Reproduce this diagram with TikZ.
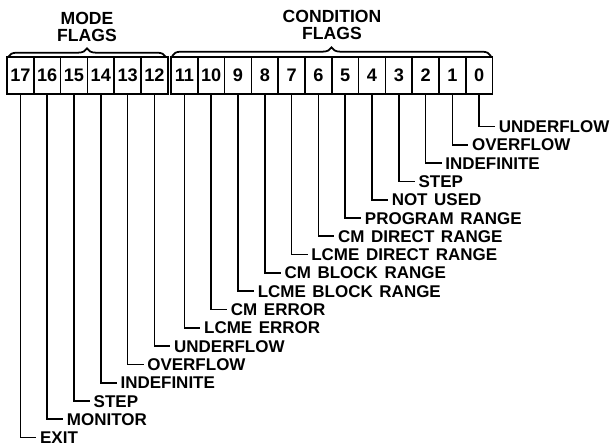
\documentclass[tikz,border=0pt]{standalone}
\usepackage{fontspec}
\setmainfont{Liberation Sans}[WordSpace=1.4]
\usetikzlibrary{decorations.pathreplacing}

\tikzset{
  bitbox/.style={draw, line width=1.5pt, minimum width=0.804cm, minimum height=1.11cm,
    inner sep=0pt, font=\bfseries\fontsize{15.5}{16}\selectfont},
  flaglabel/.style={anchor=west, inner xsep=3pt, inner ysep=0pt, text height=10.4pt,
    text depth=0pt, font=\bfseries\fontsize{14.5}{16}\selectfont},
  flagline/.style={line width=1.5pt},
  grouphead/.style={align=center, font=\bfseries\fontsize{15}{14.8}\selectfont}
}

\begin{document}
\begin{tikzpicture}[x=0.03cm, y=-0.03cm]
        \useasboundingbox (0,0) rectangle (612,446);

        % Intestazioni dei due gruppi
        \node[grouphead] (modehead) at (87,27) {MODE\\FLAGS};
        \node[grouphead] (condhead) at (332,25) {CONDITION\\FLAGS};
        \draw[flagline, decorate, decoration={brace, amplitude=0.26cm}] (8,57) -- (166,57);
        \draw[flagline, decorate, decoration={brace, amplitude=0.26cm}] (172,56) -- (491,56);

        % Mode flags (bit 17..12)
        \node[bitbox] (b17) at (20.4,75.5) {17};
        \node[bitbox] (b16) at (47.2,75.5) {16};
        \node[bitbox] (b15) at (74.0,75.5) {15};
        \node[bitbox] (b14) at (100.8,75.5) {14};
        \node[bitbox] (b13) at (127.6,75.5) {13};
        \node[bitbox] (b12) at (154.4,75.5) {12};

        % Condition flags (bit 11..0)
        \node[bitbox] (b11) at (184.4,75.5) {11};
        \node[bitbox] (b10) at (211.2,75.5) {10};
        \node[bitbox] (b9) at (238.0,75.5) {9};
        \node[bitbox] (b8) at (264.8,75.5) {8};
        \node[bitbox] (b7) at (291.6,75.5) {7};
        \node[bitbox] (b6) at (318.4,75.5) {6};
        \node[bitbox] (b5) at (345.2,75.5) {5};
        \node[bitbox] (b4) at (372.0,75.5) {4};
        \node[bitbox] (b3) at (398.8,75.5) {3};
        \node[bitbox] (b2) at (425.6,75.5) {2};
        \node[bitbox] (b1) at (452.4,75.5) {1};
        \node[bitbox] (b0) at (479.2,75.5) {0};

        % Etichette dei condition flags
        \node[flaglabel] (f0) at (495.2,126.5) {UNDERFLOW};
        \draw[flagline] (b0.south) |- (f0.west);
        \node[flaglabel] (f1) at (468.4,144.8) {OVERFLOW};
        \draw[flagline] (b1.south) |- (f1.west);
        \node[flaglabel] (f2) at (441.6,163.1) {INDEFINITE};
        \draw[flagline] (b2.south) |- (f2.west);
        \node[flaglabel] (f3) at (414.8,181.4) {STEP};
        \draw[flagline] (b3.south) |- (f3.west);
        \node[flaglabel] (f4) at (388.0,199.7) {NOT USED};
        \draw[flagline] (b4.south) |- (f4.west);
        \node[flaglabel] (f5) at (361.2,218.0) {PROGRAM RANGE};
        \draw[flagline] (b5.south) |- (f5.west);
        \node[flaglabel] (f6) at (334.4,236.3) {CM DIRECT RANGE};
        \draw[flagline] (b6.south) |- (f6.west);
        \node[flaglabel] (f7) at (307.6,254.6) {LCME DIRECT RANGE};
        \draw[flagline] (b7.south) |- (f7.west);
        \node[flaglabel] (f8) at (280.8,272.9) {CM BLOCK RANGE};
        \draw[flagline] (b8.south) |- (f8.west);
        \node[flaglabel] (f9) at (254.0,291.2) {LCME BLOCK RANGE};
        \draw[flagline] (b9.south) |- (f9.west);
        \node[flaglabel] (f10) at (227.2,309.5) {CM ERROR};
        \draw[flagline] (b10.south) |- (f10.west);
        \node[flaglabel] (f11) at (200.4,327.8) {LCME ERROR};
        \draw[flagline] (b11.south) |- (f11.west);

        % Etichette dei mode flags
        \node[flaglabel] (f12) at (170.4,346.1) {UNDERFLOW};
        \draw[flagline] (b12.south) |- (f12.west);
        \node[flaglabel] (f13) at (143.6,364.4) {OVERFLOW};
        \draw[flagline] (b13.south) |- (f13.west);
        \node[flaglabel] (f14) at (116.8,382.7) {INDEFINITE};
        \draw[flagline] (b14.south) |- (f14.west);
        \node[flaglabel] (f15) at (90.0,401.0) {STEP};
        \draw[flagline] (b15.south) |- (f15.west);
        \node[flaglabel] (f16) at (63.2,419.3) {MONITOR};
        \draw[flagline] (b16.south) |- (f16.west);
        \node[flaglabel] (f17) at (36.4,437.4) {EXIT};
        \draw[flagline] (b17.south) |- (f17.west);

    \end{tikzpicture}
\end{document}
